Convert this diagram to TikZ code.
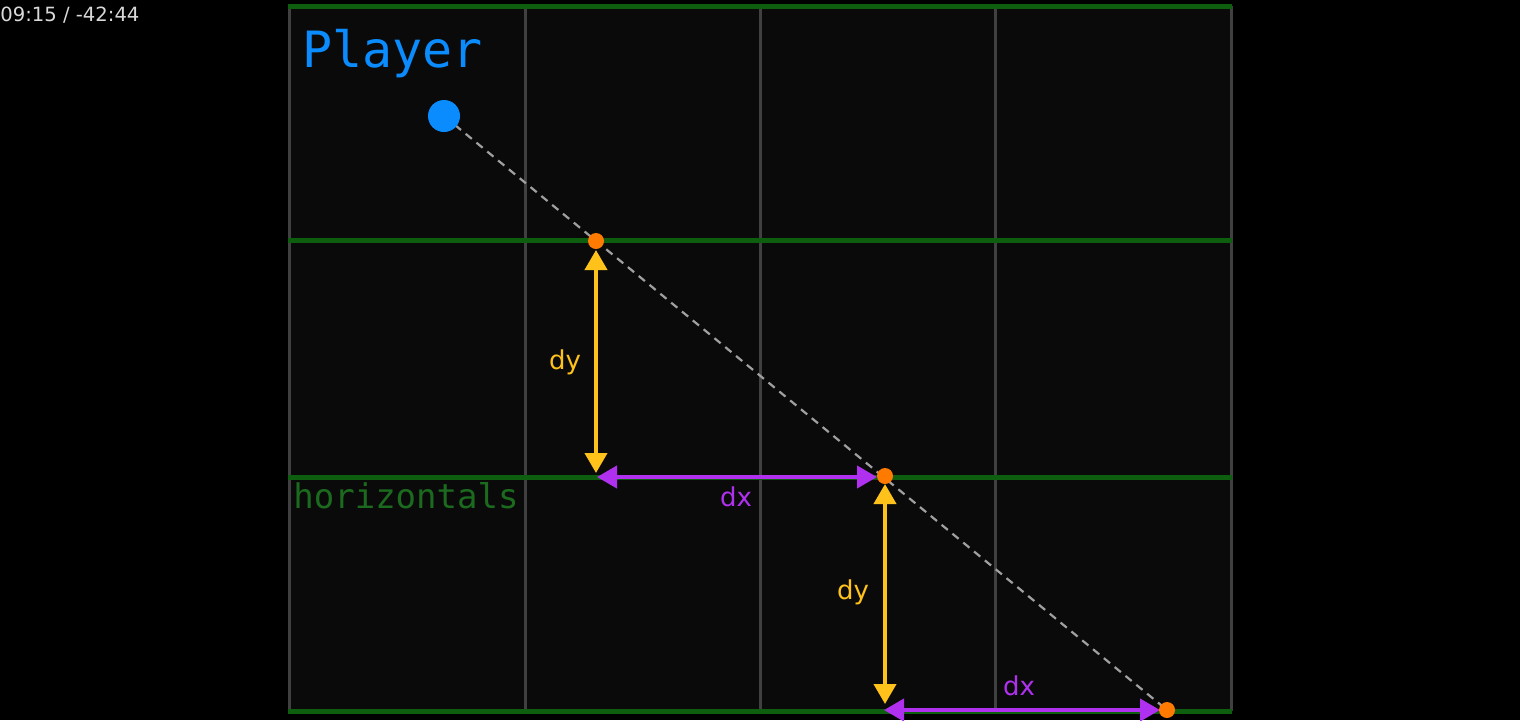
\documentclass[tikz,border=0pt]{standalone}
\usepackage{fontspec}
\setmainfont{DejaVu Sans}
\newfontfamily\monofont{DejaVu Sans Mono}
\usetikzlibrary{arrows.meta,positioning}
\definecolor{cellBg}{HTML}{0A0A0A}
\definecolor{gridGray}{HTML}{404040}
\definecolor{rowGreen}{HTML}{0E5E10}
\definecolor{labelGreen}{HTML}{1B6A1E}
\definecolor{playerBlue}{HTML}{0A8CFF}
\definecolor{hitOrange}{HTML}{FF7A00}
\definecolor{stepYellow}{HTML}{FFC21A}
\definecolor{stepPurple}{HTML}{B030F0}
\definecolor{rayGray}{HTML}{A0A0A0}

\tikzset{
  hitdot/.style={circle, fill=hitOrange, inner sep=0pt, minimum size=8pt},
  dyarrow/.style={{Triangle[length=10pt,width=11pt]}-{Triangle[length=10pt,width=11pt]}, line width=2pt, stepYellow},
  dxarrow/.style={{Triangle[length=10pt,width=11pt]}-{Triangle[length=10pt,width=11pt]}, line width=2pt, stepPurple},
  dylabel/.style={text=stepYellow, font=\fontsize{13}{15}\selectfont, inner sep=0pt},
  dxlabel/.style={text=stepPurple, font=\fontsize{13}{15}\selectfont, inner sep=0pt}
}

\begin{document}
\begin{tikzpicture}[x=0.5pt, y=-0.5pt]
    \useasboundingbox[fill=black] (0,0) rectangle (1520,720);
    \fill[cellBg] (289,6) rectangle (1231,711);
    % columns
    \foreach \xc in {289,525,760,995,1231}
      \draw[gridGray, line width=1.5pt] (\xc,6) -- (\xc,711);
    % rows
    \foreach \yr in {6,240,477,711}
      \draw[rowGreen, line width=2.5pt] (288,\yr) -- (1232,\yr);

    \node[anchor=base west, inner sep=0pt, text=white!85!black, font=\fontsize{9.8}{11}\selectfont] (clock) at (0,21) {09:15 / -42:44};
    \node[anchor=base west, inner sep=0pt, text=playerBlue, font=\monofont\fontsize{25}{30}\selectfont] (lblPlayer) at (302,67) {Player};
    \node[anchor=base west, inner sep=0pt, text=labelGreen, font=\monofont\fontsize{17}{20}\selectfont] (lblRows) at (293,508) {horizontals};

    \coordinate (playerPos) at (444,116);
    \coordinate (hit1) at (596,241);
    \coordinate (hit2) at (885,476);
    \coordinate (hit3) at (1167,710);

    \draw[rayGray, line width=1.1pt, dash pattern=on 4pt off 3pt] (playerPos) -- (hit3);
    \node[circle, fill=playerBlue, inner sep=0pt, minimum size=16pt] (player) at (playerPos) {};

    % step arrows
    \coordinate (dyTop1) at (596,250);
    \coordinate (dyBot1) at (596,473);
    \coordinate (dxL1) at (597,477);
    \coordinate (dxR1) at (877,477);
    \coordinate (dyTop2) at (885,484);
    \coordinate (dyBot2) at (885,704);
    \coordinate (dxL2) at (884,710);
    \coordinate (dxR2) at (1160,710);
    \draw[dyarrow] (dyTop1) -- (dyBot1);
    \draw[dxarrow] (dxL1) -- (dxR1);
    \draw[dyarrow] (dyTop2) -- (dyBot2);
    \draw[dxarrow] (dxL2) -- (dxR2);
    \node[hitdot] (dot1) at (hit1) {};
    \node[hitdot] (dot2) at (hit2) {};
    \node[hitdot] (dot3) at (hit3) {};

    \node[dylabel] (lblDy1) at (565,362) {dy};
    \node[dxlabel] (lblDx1) at (736,497) {dx};
    \node[dylabel] (lblDy2) at (853,592) {dy};
    \node[dxlabel] (lblDx2) at (1019,686) {dx};
  \end{tikzpicture}
\end{document}
